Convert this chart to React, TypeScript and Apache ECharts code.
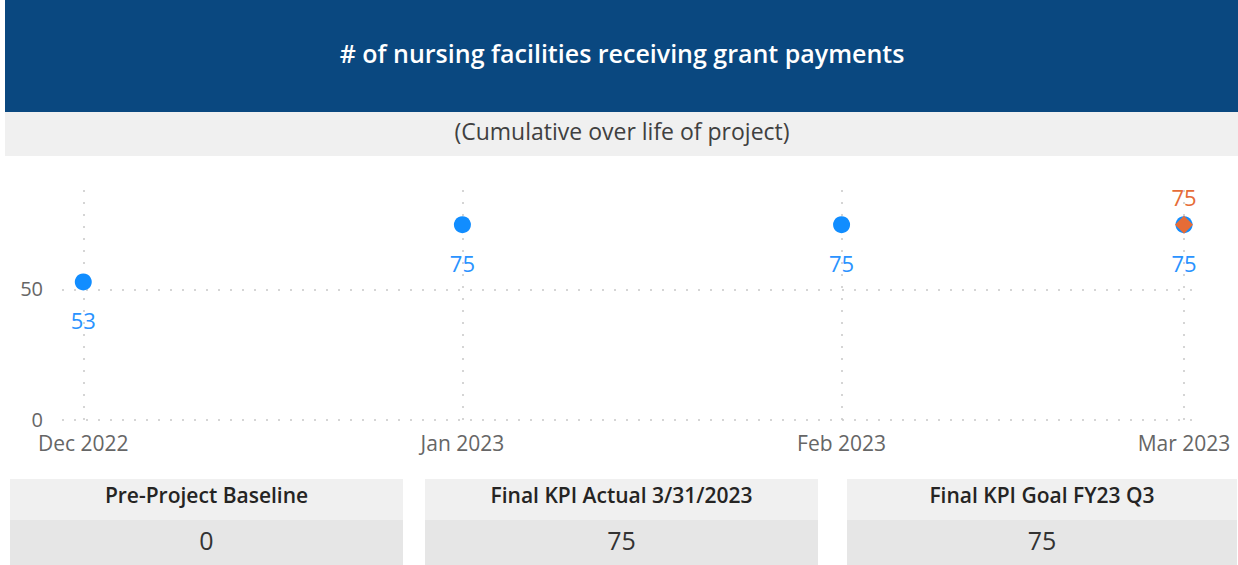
import React, { useEffect, useRef } from 'react';
import * as echarts from 'echarts';

// ---- data ----
const months = ['2022-12-01', '2023-01-01', '2023-02-01', '2023-03-01'];
const actualValues = [53, 75, 75, 75];
const goalValues: (number | null)[] = [null, null, null, 75];
const yTicks = [0, 50];
const cardTitles = ['Pre-Project Baseline', 'Final KPI Actual 3/31/2023', 'Final KPI Goal FY23 Q3'];
const cardValues = ['0', '75', '75'];
const titleText = '# of nursing facilities receiving grant payments';
const subtitleText = '(Cumulative over life of project)';
const monthNames = ['Jan', 'Feb', 'Mar', 'Apr', 'May', 'Jun', 'Jul', 'Aug', 'Sep', 'Oct', 'Nov', 'Dec'];

// ---- layout ----
const W = 1238;
const H = 565;
const FONT = '"Open Sans", "Noto Sans", sans-serif';
const cardLayout = [
  { x: 10, w: 393 },
  { x: 425, w: 393 },
  { x: 847, w: 390 },
];

const DAY = 86400000;
const toTime = (s: string) => {
  const [y, m, d] = s.split('-').map(Number);
  return Date.UTC(y, m - 1, d);
};

export default function App() {
  const ref = useRef<HTMLDivElement>(null);

  useEffect(() => {
    if (!ref.current) return;
    const chart = echarts.init(ref.current, undefined, { renderer: 'svg' });
    const times = months.map(toTime);
    const xMin = times[0] - 1.74 * DAY;
    const xMax = times[times.length - 1] + 1.47 * DAY;

    const graphics: any[] = [
      { type: 'rect', shape: { x: 5, y: 0, width: W - 5, height: 112 }, style: { fill: '#0A4880' }, silent: true },
      { type: 'rect', shape: { x: 5, y: 112, width: W - 5, height: 44 }, style: { fill: '#F0F0F0' }, silent: true },
      {
        type: 'text', x: 622, y: 53, silent: true,
        style: { text: titleText, fill: '#FFFFFF', fontSize: 25, fontWeight: 600, fontFamily: FONT, align: 'center', verticalAlign: 'middle' },
      },
      {
        type: 'text', x: 622, y: 131, silent: true,
        style: { text: subtitleText, fill: '#404040', fontSize: 23, fontFamily: FONT, align: 'center', verticalAlign: 'middle' },
      },
    ];
    cardLayout.forEach((c, i) => {
      const cx = c.x + c.w / 2;
      graphics.push(
        { type: 'rect', shape: { x: c.x, y: 479, width: c.w, height: 41 }, style: { fill: '#F0F0F0' }, silent: true },
        { type: 'rect', shape: { x: c.x, y: 520, width: c.w, height: 45 }, style: { fill: '#E6E6E6' }, silent: true },
        {
          type: 'text', x: cx, y: 495, silent: true,
          style: { text: cardTitles[i], fill: '#252423', fontSize: 21, fontWeight: 600, fontFamily: FONT, align: 'center', verticalAlign: 'middle' },
        },
        {
          type: 'text', x: cx, y: 540, silent: true,
          style: { text: cardValues[i], fill: '#333333', fontSize: 25, fontFamily: FONT, align: 'center', verticalAlign: 'middle' },
        }
      );
    });

    const option: any = {
      animation: false,
      textStyle: { fontFamily: FONT },
      graphic: graphics,
      grid: { left: 62, right: W - 1202, top: 183, bottom: H - 420, containLabel: false },
      xAxis: {
        type: 'value',
        min: xMin,
        max: xMax,
        axisLine: { show: false },
        axisTick: { show: false },
        splitLine: { show: false },
        axisLabel: {
          customValues: times,
          formatter: (v: number) => {
            const d = new Date(v);
            return monthNames[d.getUTCMonth()] + ' ' + d.getUTCFullYear();
          },
          color: '#666666',
          fontSize: 21,
          fontFamily: FONT,
          margin: 12,
          hideOverlap: false,
        },
      },
      yAxis: {
        type: 'value',
        min: 0,
        max: 91,
        interval: 50,
        axisLine: { show: false },
        axisTick: { show: false },
        splitLine: { show: false },
        axisLabel: {
          showMaxLabel: false,
          color: '#666666',
          fontSize: 20,
          lineHeight: 20,
          fontFamily: FONT,
          margin: 19,
          verticalAlign: 'bottom',
          padding: [0, 0, -9, 0],
        },
      },
      series: [
        {
          name: 'grid',
          type: 'scatter',
          data: [],
          z: 1,
          silent: true,
          markLine: {
            silent: true,
            z: 1,
            symbol: 'none',
            label: { show: false },
            lineStyle: { type: [2, 10], color: '#C8C8C8', width: 1.5 },
            data: [
              ...times.map((t) => ({ xAxis: t })),
              ...yTicks.map((v) => ({ yAxis: v })),
            ],
          },
        },
        {
          name: 'Actual',
          type: 'scatter',
          z: 3,
          symbol: 'circle',
          symbolSize: 17,
          itemStyle: { color: '#118DFF', opacity: 1 },
          label: {
            show: true,
            position: 'bottom',
            distance: 19,
            color: '#2A93FF',
            fontSize: 22,
            fontFamily: FONT,
            formatter: (p: any) => String(p.value[1]),
          },
          data: times.map((t, i) => [t, actualValues[i]]),
        },
        {
          name: 'Goal',
          type: 'scatter',
          z: 4,
          symbol: 'diamond',
          symbolSize: 18,
          itemStyle: { color: '#E66C37', opacity: 1 },
          label: {
            show: true,
            position: 'top',
            distance: 8,
            color: '#E66C37',
            fontSize: 22,
            fontFamily: FONT,
            formatter: (p: any) => String(p.value[1]),
          },
          data: times
            .map((t, i) => (goalValues[i] == null ? null : [t, goalValues[i]]))
            .filter((d) => d !== null),
        },
      ],
    };
    chart.setOption(option);
    return () => chart.dispose();
  }, []);

  return (
    <div
      ref={ref}
      style={{ position: 'absolute', left: 0, top: 0, width: W, height: H, background: '#FFFFFF' }}
    />
  );
}
